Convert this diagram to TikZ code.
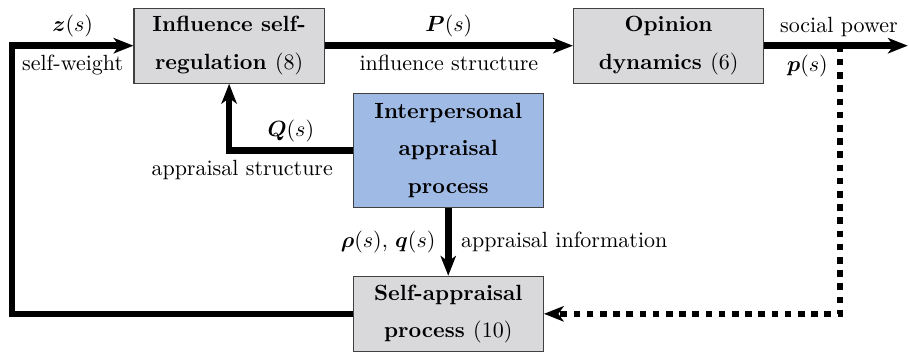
\documentclass[tikz,border=0pt]{standalone}
\usepackage{amsmath}
\usetikzlibrary{arrows.meta}

\definecolor{boxgray}{RGB}{217,217,219}
\definecolor{boxblue}{RGB}{160,186,230}

\begin{document}
\begin{tikzpicture}

\def\bw{3.04}  % width of the blocks
\def\bh{1.2}   % height of the small blocks
\def\yt{4.93}  % y of the upper row
\def\yb{0.647} % y of the lower block
\def\xl{0.19}  % x of the feedback line on the left
\def\xd{13.42} % x of the dotted tap

\tikzset{block/.style = {draw=black!75, line width=0.5pt,
                         minimum width=\bw cm, minimum height=\bh cm,
                         align=center, font=\bfseries, inner sep=2pt},
         flow/.style  = {line width=3pt,
                         -{Stealth[length=9pt, width=7pt, inset=2.5pt]}},
         tapline/.style = {flow, dash pattern=on 3pt off 3pt},
         up/.style    = {above=-1pt},
         down/.style  = {below=-0.5pt}
        }

\useasboundingbox (0,0) rectangle (14.52,5.66);

% blocks
\node[block, fill=boxgray] (infl) at (3.66,\yt)
    {Influence self-\\[5pt]regulation {\mdseries(8)}};
\node[block, fill=boxgray] (opin) at (10.68,\yt)
    {Opinion\\[5pt]dynamics {\mdseries(6)}};
\node[block, fill=boxblue, minimum height=1.82cm] (inter) at (7.16,3.26)
    {Interpersonal\\[5pt]appraisal\\[5pt]process};
\node[block, fill=boxgray] (selfa) at (7.16,\yb)
    {Self-appraisal\\[5pt]process {\mdseries(10)}};

\coordinate (corner) at (\xl,\yb);
\coordinate (out) at (14.50,\yt);
\coordinate (tap) at (\xd,\yt);

% connections
\draw[flow] (selfa.west) -| (corner)
    |- node[pos=0.75, up] {$\boldsymbol{z}(s)$}
       node[pos=0.75, down] {self-weight} (infl.west);
\draw[flow] (infl) -- node[up] {$\boldsymbol{P}(s)$}
                      node[down] {influence structure} (opin);
\draw[tapline] (tap) |- (selfa.east);
\draw[flow] (opin) -- node[pos=0.52, up] {social power}
                      node[pos=0.3, down] {$\boldsymbol{p}(s)$} (out);
\draw[flow] (inter.west) -| node[pos=0.25, up] {$\boldsymbol{Q}(s)$}
                            node[pos=0.447, down] {appraisal structure} (infl.south);
\draw[flow] (inter) -- node[left=1pt] {$\boldsymbol{\rho}(s)$, $\boldsymbol{q}(s)$}
                       node[right=1pt] {appraisal information} (selfa);

\end{tikzpicture}
\end{document}
